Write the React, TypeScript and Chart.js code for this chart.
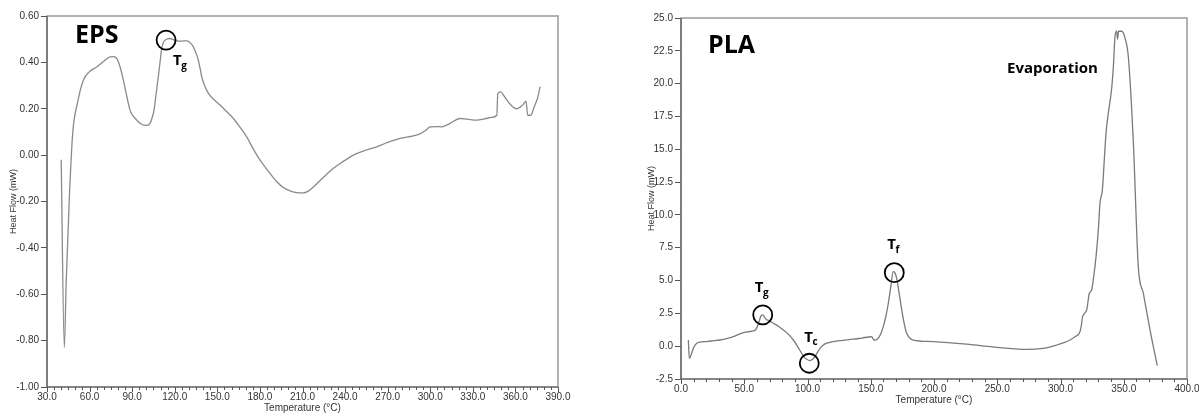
import React, { useEffect, useRef } from "react";
import { Chart, registerables } from "chart.js";

Chart.register(...registerables);

// ---------- EPS (left) ----------
const epsTemperature = [
  40.0, 42.2, 43.5, 45.7, 48.1, 51.4, 55.6, 60.0, 65.0, 70.0, 74.4, 77.0, 79.1, 81.5, 83.8, 86.0, 88.5, 90.5,
  93.2, 96.0, 98.4, 100.5, 102.6, 104.0, 105.4, 107.0, 108.4, 109.8, 110.8, 112.0, 113.2, 116.7, 119.0, 121.4,
  125.0, 128.4, 131.0, 133.1, 135.0, 136.6, 138.0, 139.0, 141.0, 143.7, 147.0, 151.9, 156.5, 161.3, 166.0,
  170.7, 175.0, 180.1, 186.0, 191.9, 196.5, 201.2, 206.0, 210.6, 214.0, 217.7, 224.0, 231.8, 238.0, 245.9,
  254.0, 262.3, 270.0, 278.8, 288.1, 293.0, 296.4, 298.5, 300.0, 304.0, 308.1, 311.0, 314.0, 317.5, 321.0,
  326.0, 332.8, 338.0, 343.4, 346.9, 347.6, 349.7, 352.0, 354.0, 357.0, 361.0, 363.5, 365.7, 367.4, 368.7,
  370.9, 373.2, 375.5, 377.4,
];
const epsHeatFlow = [
  -0.02, -0.83, -0.55, -0.19, 0.094, 0.223, 0.323, 0.36, 0.38, 0.405, 0.424, 0.425, 0.417, 0.38, 0.323, 0.26,
  0.194, 0.17, 0.151, 0.135, 0.129, 0.128, 0.137, 0.16, 0.194, 0.27, 0.338, 0.41, 0.46, 0.485, 0.496, 0.503,
  0.498, 0.493, 0.492, 0.493, 0.484, 0.467, 0.44, 0.41, 0.37, 0.338, 0.3, 0.266, 0.243, 0.216, 0.188, 0.158,
  0.12, 0.079, 0.03, -0.022, -0.07, -0.115, -0.14, -0.154, -0.162, -0.163, -0.155, -0.137, -0.1, -0.057,
  -0.03, 0.0, 0.02, 0.036, 0.055, 0.072, 0.083, 0.093, 0.105, 0.116, 0.122, 0.123, 0.122, 0.128, 0.137, 0.15,
  0.158, 0.155, 0.151, 0.156, 0.163, 0.172, 0.266, 0.273, 0.255, 0.237, 0.215, 0.2, 0.208, 0.22, 0.233, 0.172,
  0.172, 0.208, 0.244, 0.295,
];
const epsTransitionNames = ["g"];
const epsTransitionTemperature = [113.9];
const epsTransitionHeatFlow = [0.496];

// ---------- PLA (right) ----------
const plaTemperature = [
  5.8, 6.6, 8.4, 10.0, 12.4, 16.0, 20.3, 25.0, 30.8, 36.0, 41.3, 45.0, 49.3, 53.0, 57.2, 59.0, 60.3, 61.5, 62.5,
  63.6, 64.6, 65.8, 67.0, 70.0, 73.0, 77.0, 80.9, 85.0, 88.8, 92.0, 95.4, 97.5, 99.4, 102.0, 104.0, 105.9,
  108.0, 110.0, 112.5, 116.0, 120.4, 128.0, 136.2, 143.0, 150.7, 152.6, 155.2, 157.5, 159.9, 162.0, 163.9,
  165.8, 167.8, 169.0, 170.5, 172.5, 174.5, 176.5, 178.4, 181.0, 183.6, 199.5, 225.8, 252.2, 273.3, 286.4,
  292.0, 297.0, 302.0, 307.5, 312.0, 315.4, 316.5, 317.5, 320.7, 322.8, 324.6, 326.5, 328.1, 330.0, 331.2,
  333.1, 334.5, 336.0, 337.8, 339.7, 340.8, 341.8, 343.1, 344.4, 345.1, 345.9, 348.4, 351.0, 353.6, 357.6,
  361.5, 365.5, 370.8, 376.5,
];
const plaHeatFlow = [
  0.47, -0.93, -0.54, -0.1, 0.22, 0.32, 0.35, 0.4, 0.47, 0.57, 0.72, 0.88, 1.03, 1.1, 1.16, 1.25, 1.49, 1.8,
  2.13, 2.35, 2.38, 2.25, 2.08, 1.92, 1.75, 1.52, 1.24, 0.9, 0.47, 0.0, -0.54, -0.85, -1.0, -1.1, -1.0, -0.79,
  -0.45, -0.15, 0.09, 0.25, 0.35, 0.44, 0.53, 0.62, 0.72, 0.47, 0.53, 0.85, 1.49, 2.3, 3.27, 4.5, 5.68, 5.6,
  5.17, 4.0, 2.76, 1.7, 0.98, 0.6, 0.47, 0.35, 0.15, -0.11, -0.24, -0.16, -0.05, 0.09, 0.25, 0.47, 0.75, 1.1,
  1.6, 2.25, 2.76, 4.03, 4.28, 5.5, 6.82, 9.0, 10.89, 11.9, 14.0, 16.23, 17.75, 19.02, 20.0, 21.3, 23.6, 23.99,
  23.4, 23.99, 23.99, 23.47, 22.07, 15.5, 6.06, 4.03, 1.23, -1.49,
];
const plaTransitionNames = ["g", "c", "f"];
const plaTransitionTemperature = [64.6, 101.4, 168.6];
const plaTransitionHeatFlow = [2.38, -1.3, 5.6];

// ---------- layout / style config ----------
const TICK_FONT = "'Liberation Sans', Arial, sans-serif";
const BOLD_FONT = "'Open Sans', 'Noto Sans', sans-serif";

type PanelCfg = {
  id: string;
  canvasLeft: number;
  width: number;
  height: number;
  temps: number[];
  flows: number[];
  xMin: number;
  xMax: number;
  xStep: number;
  xMinor: number;
  xDigits: number;
  yMin: number;
  yMax: number;
  yStep: number;
  yDigits: number;
  padding: { left: number; top: number; right: number; bottom: number };
  yWidth: number;
  xHeight: number;
  yTitlePad: number;
  title: string;
  titleDx: number;
  titleDy: number;
  names: string[];
  mT: number[];
  mV: number[];
  labelOffsets: number[][];
  lineColor: string;
  extra?: { text: string; dx: number; dy: number };
};

const panels: PanelCfg[] = [
  {
    id: "eps",
    canvasLeft: 0,
    width: 580,
    height: 415,
    temps: epsTemperature,
    flows: epsHeatFlow,
    xMin: 30,
    xMax: 390,
    xStep: 30,
    xMinor: 5,
    xDigits: 1,
    yMin: -1,
    yMax: 0.6,
    yStep: 0.2,
    yDigits: 2,
    padding: { left: 0, top: 16, right: 22, bottom: 0 },
    yWidth: 47,
    xHeight: 28,
    yTitlePad: 8,
    title: "EPS",
    titleDx: 28,
    titleDy: 27,
    names: epsTransitionNames,
    mT: epsTransitionTemperature,
    mV: epsTransitionHeatFlow,
    labelOffsets: [[7, 21]],
    lineColor: "#8a8a8a",
  },
  {
    id: "pla",
    canvasLeft: 600,
    width: 599,
    height: 415,
    temps: plaTemperature,
    flows: plaHeatFlow,
    xMin: 0,
    xMax: 400,
    xStep: 50,
    xMinor: 10,
    xDigits: 1,
    yMin: -2.5,
    yMax: 25,
    yStep: 2.5,
    yDigits: 1,
    padding: { left: 0, top: 18, right: 12, bottom: 8 },
    yWidth: 81,
    xHeight: 28,
    yTitlePad: 46,
    title: "PLA",
    titleDx: 27,
    titleDy: 35,
    names: plaTransitionNames,
    mT: plaTransitionTemperature,
    mV: plaTransitionHeatFlow,
    labelOffsets: [
      [-8, -27],
      [-5, -26],
      [-7, -28],
    ],
    lineColor: "#7a7a7a",
    extra: { text: "Evaporation", dx: 326, dy: 51 },
  },
];

function makeOverlay(p: PanelCfg) {
  return {
    id: "overlay-" + p.id,
    afterDraw(chart: any) {
      const { ctx, chartArea: a, scales } = chart;
      const x = scales.x;
      const y = scales.y;
      ctx.save();
      // frame
      ctx.strokeStyle = "#9a9a9a";
      ctx.lineWidth = 1.5;
      ctx.strokeRect(a.left, a.top, a.right - a.left, a.bottom - a.top);
      ctx.strokeStyle = "#5a5a5a";
      ctx.lineWidth = 1.2;
      ctx.beginPath();
      ctx.moveTo(a.left, a.top);
      ctx.lineTo(a.left, a.bottom);
      ctx.lineTo(a.right, a.bottom);
      ctx.stroke();
      // x tick marks (major + minor)
      ctx.strokeStyle = "#555";
      ctx.lineWidth = 1;
      ctx.beginPath();
      const n = Math.round((p.xMax - p.xMin) / p.xMinor);
      for (let i = 0; i <= n; i++) {
        const v = p.xMin + i * p.xMinor;
        const px = Math.round(x.getPixelForValue(v)) + 0.5;
        const r = v / p.xStep;
        const major = Math.abs(r - Math.round(r)) < 1e-6;
        ctx.moveTo(px, a.bottom);
        ctx.lineTo(px, a.bottom + (major ? 5 : 3));
      }
      ctx.stroke();
      // panel title
      ctx.fillStyle = "#000";
      ctx.font = `bold 25px ${BOLD_FONT}`;
      ctx.textAlign = "left";
      ctx.textBaseline = "alphabetic";
      ctx.fillText(p.title, a.left + p.titleDx, a.top + p.titleDy);
      // transition markers
      p.names.forEach((name, i) => {
        const cx = x.getPixelForValue(p.mT[i]);
        const cy = y.getPixelForValue(p.mV[i]);
        ctx.beginPath();
        ctx.strokeStyle = "#000";
        ctx.lineWidth = 1.8;
        ctx.arc(cx, cy, 9.5, 0, Math.PI * 2);
        ctx.stroke();
        const [dx, dy] = p.labelOffsets[i];
        ctx.font = `bold 15px ${BOLD_FONT}`;
        ctx.textBaseline = "middle";
        ctx.fillText("T", cx + dx, cy + dy);
        const w = ctx.measureText("T").width;
        ctx.font = `bold 10px ${BOLD_FONT}`;
        ctx.fillText(name, cx + dx + w - 0.5, cy + dy + 5);
      });
      if (p.extra) {
        ctx.font = `bold 15px ${BOLD_FONT}`;
        ctx.textBaseline = "middle";
        ctx.fillText(p.extra.text, a.left + p.extra.dx, a.top + p.extra.dy);
      }
      ctx.restore();
    },
  };
}

function Panel({ p }: { p: PanelCfg }) {
  const ref = useRef<HTMLCanvasElement | null>(null);
  useEffect(() => {
    if (!ref.current) return;
    const data = p.temps.map((t, i) => ({ x: t, y: p.flows[i] }));
    const chart = new Chart(ref.current, {
      type: "line",
      data: {
        datasets: [
          {
            data,
            borderColor: p.lineColor,
            borderWidth: 1.3,
            pointRadius: 0,
            cubicInterpolationMode: "monotone",
            fill: false,
          },
        ],
      },
      options: {
        responsive: false,
        animation: false,
        devicePixelRatio: 1,
        layout: { padding: p.padding },
        plugins: { legend: { display: false }, tooltip: { enabled: false } },
        scales: {
          x: {
            type: "linear",
            min: p.xMin,
            max: p.xMax,
            grid: { display: false, drawTicks: false, tickLength: 0 },
            border: { display: false },
            ticks: {
              stepSize: p.xStep,
              autoSkip: false,
              maxRotation: 0,
              padding: 4,
              color: "#333",
              font: { family: TICK_FONT, size: 10 },
              callback: (v: any) => Number(v).toFixed(p.xDigits),
            },
            title: {
              display: true,
              text: "Temperature (°C)",
              color: "#333",
              font: { family: TICK_FONT, size: 10 },
              padding: { top: 0, bottom: 0.5 },
            },
            afterFit: (s: any) => {
              s.height = p.xHeight;
              s.paddingLeft = 0;
              s.paddingRight = 0;
            },
          },
          y: {
            type: "linear",
            min: p.yMin,
            max: p.yMax,
            grid: {
              display: true,
              drawOnChartArea: false,
              drawTicks: true,
              tickLength: 6,
              color: "#555",
            },
            border: { display: false },
            ticks: {
              stepSize: p.yStep,
              autoSkip: false,
              padding: 2,
              color: "#333",
              font: { family: TICK_FONT, size: 10 },
              callback: (v: any) => Number(v).toFixed(p.yDigits),
            },
            title: {
              display: true,
              text: "Heat Flow (mW)",
              color: "#333",
              font: { family: TICK_FONT, size: 9 },
              padding: { top: p.yTitlePad, bottom: 0 },
            },
            afterFit: (s: any) => {
              s.width = p.yWidth;
              s.paddingTop = 0;
              s.paddingBottom = 0;
            },
          },
        },
      } as any,
      plugins: [makeOverlay(p)],
    });
    return () => chart.destroy();
  }, [p]);
  return (
    <canvas
      ref={ref}
      width={p.width}
      height={p.height}
      style={{ position: "absolute", left: p.canvasLeft, top: 0, width: p.width, height: p.height }}
    />
  );
}

export default function App() {
  return (
    <div style={{ position: "absolute", left: 0, top: 0, width: 1199, height: 415, background: "#fff" }}>
      {panels.map((p) => (
        <Panel key={p.id} p={p} />
      ))}
    </div>
  );
}
